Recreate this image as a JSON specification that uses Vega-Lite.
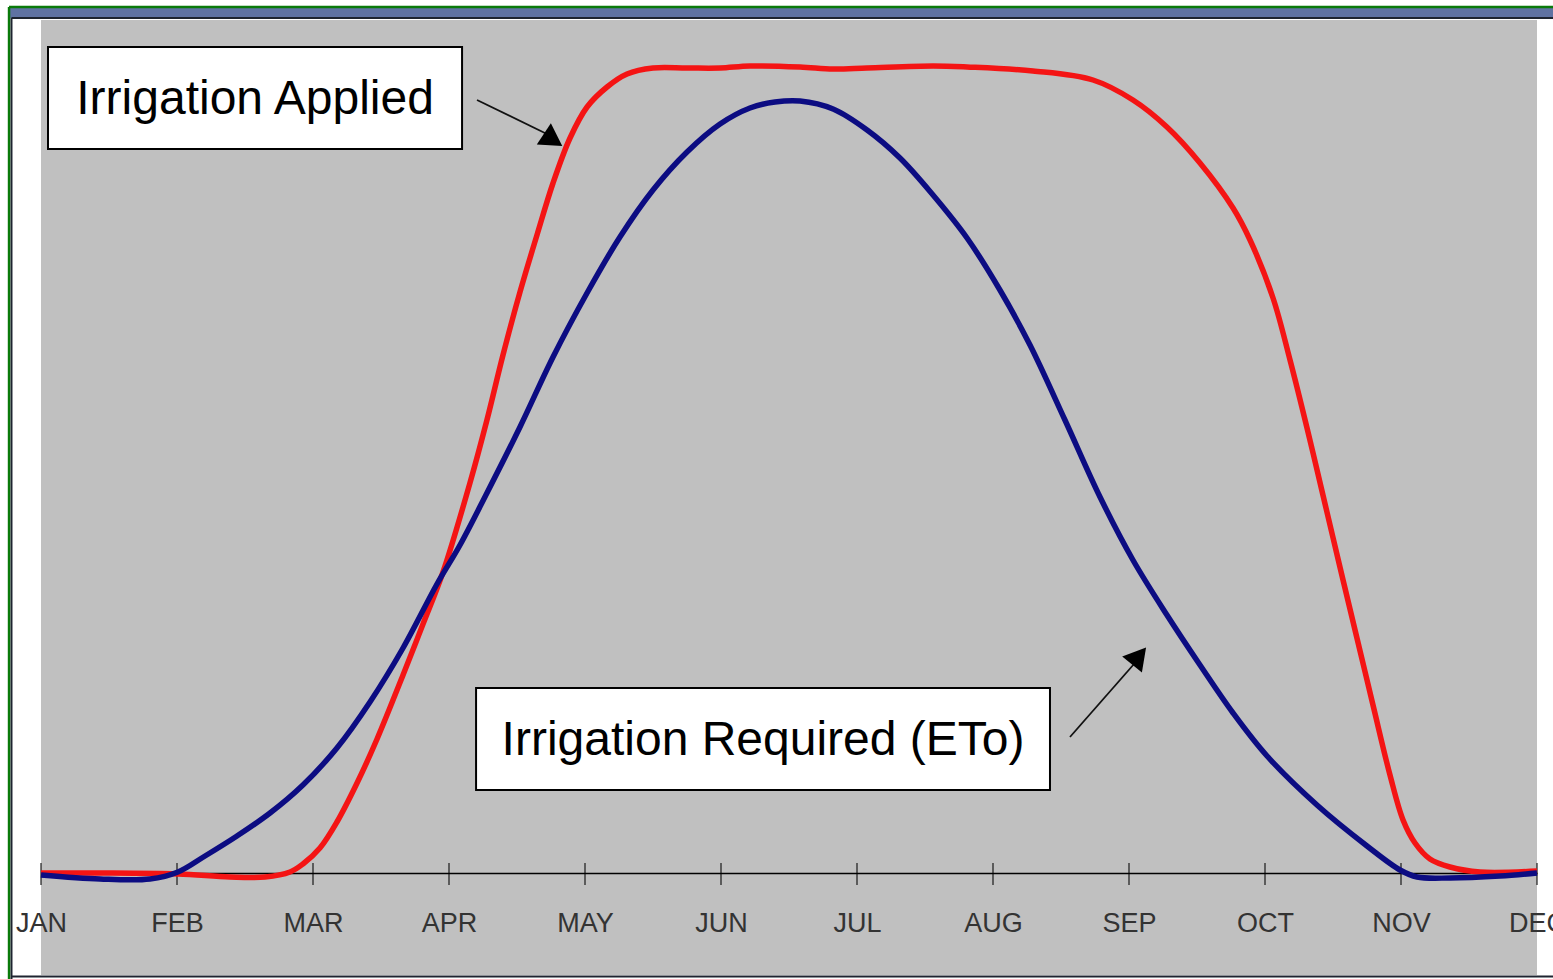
{
  "$schema": "https://vega.github.io/schema/vega-lite/v6.json",
  "width": 1496,
  "height": 955,
  "autosize": {"type": "none"},
  "padding": {"left": 41, "top": 20, "right": 16, "bottom": 4},
  "background": "#ffffff",
  "config": {"view": {"fill": "#c0c0c0", "stroke": null}},
  "datasets": {
    "curves": [
      {"series": "Irrigation Applied", "m": 0, "v": 0},
      {"series": "Irrigation Applied", "m": 0.434, "v": 0},
      {"series": "Irrigation Applied", "m": 1.007, "v": -1},
      {"series": "Irrigation Applied", "m": 1.39, "v": -4},
      {"series": "Irrigation Applied", "m": 1.647, "v": -4},
      {"series": "Irrigation Applied", "m": 1.831, "v": 1},
      {"series": "Irrigation Applied", "m": 1.926, "v": 9},
      {"series": "Irrigation Applied", "m": 2.051, "v": 25},
      {"series": "Irrigation Applied", "m": 2.176, "v": 51},
      {"series": "Irrigation Applied", "m": 2.324, "v": 90},
      {"series": "Irrigation Applied", "m": 2.471, "v": 134},
      {"series": "Irrigation Applied", "m": 2.662, "v": 198},
      {"series": "Irrigation Applied", "m": 2.809, "v": 249},
      {"series": "Irrigation Applied", "m": 2.956, "v": 301},
      {"series": "Irrigation Applied", "m": 3.154, "v": 390},
      {"series": "Irrigation Applied", "m": 3.279, "v": 453},
      {"series": "Irrigation Applied", "m": 3.397, "v": 518},
      {"series": "Irrigation Applied", "m": 3.522, "v": 581},
      {"series": "Irrigation Applied", "m": 3.647, "v": 638},
      {"series": "Irrigation Applied", "m": 3.765, "v": 690},
      {"series": "Irrigation Applied", "m": 3.89, "v": 735},
      {"series": "Irrigation Applied", "m": 4.015, "v": 766},
      {"series": "Irrigation Applied", "m": 4.162, "v": 786},
      {"series": "Irrigation Applied", "m": 4.309, "v": 799},
      {"series": "Irrigation Applied", "m": 4.5, "v": 805},
      {"series": "Irrigation Applied", "m": 4.75, "v": 805},
      {"series": "Irrigation Applied", "m": 4.993, "v": 805},
      {"series": "Irrigation Applied", "m": 5.213, "v": 807},
      {"series": "Irrigation Applied", "m": 5.581, "v": 806},
      {"series": "Irrigation Applied", "m": 5.824, "v": 804},
      {"series": "Irrigation Applied", "m": 6.074, "v": 805},
      {"series": "Irrigation Applied", "m": 6.559, "v": 807},
      {"series": "Irrigation Applied", "m": 6.809, "v": 806},
      {"series": "Irrigation Applied", "m": 7.294, "v": 802},
      {"series": "Irrigation Applied", "m": 7.735, "v": 793},
      {"series": "Irrigation Applied", "m": 8.029, "v": 773},
      {"series": "Irrigation Applied", "m": 8.279, "v": 746},
      {"series": "Irrigation Applied", "m": 8.522, "v": 710},
      {"series": "Irrigation Applied", "m": 8.765, "v": 665},
      {"series": "Irrigation Applied", "m": 8.89, "v": 633},
      {"series": "Irrigation Applied", "m": 9.059, "v": 575},
      {"series": "Irrigation Applied", "m": 9.184, "v": 513},
      {"series": "Irrigation Applied", "m": 9.309, "v": 445},
      {"series": "Irrigation Applied", "m": 9.426, "v": 378},
      {"series": "Irrigation Applied", "m": 9.551, "v": 306},
      {"series": "Irrigation Applied", "m": 9.676, "v": 235},
      {"series": "Irrigation Applied", "m": 9.794, "v": 168},
      {"series": "Irrigation Applied", "m": 9.919, "v": 98},
      {"series": "Irrigation Applied", "m": 10.015, "v": 53},
      {"series": "Irrigation Applied", "m": 10.103, "v": 30},
      {"series": "Irrigation Applied", "m": 10.213, "v": 14},
      {"series": "Irrigation Applied", "m": 10.36, "v": 6},
      {"series": "Irrigation Applied", "m": 10.581, "v": 1},
      {"series": "Irrigation Applied", "m": 11, "v": 2},
      {"series": "Irrigation Required (ETo)", "m": 0, "v": -2},
      {"series": "Irrigation Required (ETo)", "m": 0.434, "v": -6},
      {"series": "Irrigation Required (ETo)", "m": 0.801, "v": -6},
      {"series": "Irrigation Required (ETo)", "m": 1.007, "v": 1},
      {"series": "Irrigation Required (ETo)", "m": 1.206, "v": 17},
      {"series": "Irrigation Required (ETo)", "m": 1.441, "v": 37},
      {"series": "Irrigation Required (ETo)", "m": 1.684, "v": 60},
      {"series": "Irrigation Required (ETo)", "m": 1.926, "v": 88},
      {"series": "Irrigation Required (ETo)", "m": 2.176, "v": 125},
      {"series": "Irrigation Required (ETo)", "m": 2.419, "v": 171},
      {"series": "Irrigation Required (ETo)", "m": 2.662, "v": 225},
      {"series": "Irrigation Required (ETo)", "m": 2.912, "v": 289},
      {"series": "Irrigation Required (ETo)", "m": 3.081, "v": 328},
      {"series": "Irrigation Required (ETo)", "m": 3.279, "v": 380},
      {"series": "Irrigation Required (ETo)", "m": 3.522, "v": 446},
      {"series": "Irrigation Required (ETo)", "m": 3.765, "v": 516},
      {"series": "Irrigation Required (ETo)", "m": 4.015, "v": 580},
      {"series": "Irrigation Required (ETo)", "m": 4.257, "v": 636},
      {"series": "Irrigation Required (ETo)", "m": 4.5, "v": 683},
      {"series": "Irrigation Required (ETo)", "m": 4.75, "v": 721},
      {"series": "Irrigation Required (ETo)", "m": 4.993, "v": 749},
      {"series": "Irrigation Required (ETo)", "m": 5.213, "v": 765},
      {"series": "Irrigation Required (ETo)", "m": 5.397, "v": 771},
      {"series": "Irrigation Required (ETo)", "m": 5.581, "v": 772},
      {"series": "Irrigation Required (ETo)", "m": 5.824, "v": 764},
      {"series": "Irrigation Required (ETo)", "m": 6.074, "v": 743},
      {"series": "Irrigation Required (ETo)", "m": 6.316, "v": 715},
      {"series": "Irrigation Required (ETo)", "m": 6.559, "v": 678},
      {"series": "Irrigation Required (ETo)", "m": 6.809, "v": 635},
      {"series": "Irrigation Required (ETo)", "m": 7.051, "v": 583},
      {"series": "Irrigation Required (ETo)", "m": 7.272, "v": 528},
      {"series": "Irrigation Required (ETo)", "m": 7.529, "v": 453},
      {"series": "Irrigation Required (ETo)", "m": 7.787, "v": 376},
      {"series": "Irrigation Required (ETo)", "m": 8.029, "v": 313},
      {"series": "Irrigation Required (ETo)", "m": 8.279, "v": 258},
      {"series": "Irrigation Required (ETo)", "m": 8.522, "v": 208},
      {"series": "Irrigation Required (ETo)", "m": 8.765, "v": 160},
      {"series": "Irrigation Required (ETo)", "m": 9.015, "v": 117},
      {"series": "Irrigation Required (ETo)", "m": 9.382, "v": 68},
      {"series": "Irrigation Required (ETo)", "m": 9.75, "v": 27},
      {"series": "Irrigation Required (ETo)", "m": 9.993, "v": 3},
      {"series": "Irrigation Required (ETo)", "m": 10.118, "v": -4},
      {"series": "Irrigation Required (ETo)", "m": 10.36, "v": -5},
      {"series": "Irrigation Required (ETo)", "m": 10.728, "v": -3},
      {"series": "Irrigation Required (ETo)", "m": 11, "v": 0}
    ],
    "ticks": [
      {"m": 0, "v": -1}, {"m": 1, "v": -1}, {"m": 2, "v": -1}, {"m": 3, "v": -1},
      {"m": 4, "v": -1}, {"m": 5, "v": -1}, {"m": 6, "v": -1}, {"m": 7, "v": -1},
      {"m": 8, "v": -1}, {"m": 9, "v": -1}, {"m": 10, "v": -1}, {"m": 11, "v": -1}
    ],
    "boxes": [
      {"label": "Irrigation Applied", "x1": 0.0515, "x2": 3.096, "y1": 826, "y2": 724, "cx": 1.574, "cy": 775},
      {"label": "Irrigation Required (ETo)", "x1": 3.199, "x2": 7.419, "y1": 185, "y2": 83, "cx": 5.309, "cy": 134}
    ],
    "arrows": [
      {"id": "applied", "x1": 3.206, "y1": 773, "x2": 3.735, "y2": 738, "hx": 3.765, "hy": 733},
      {"id": "required", "x1": 7.566, "y1": 136, "x2": 8.05, "y2": 211, "hx": 8.074, "hy": 217}
    ],
    "frameBar": [
      {"x1": -0.228, "x2": 11.2, "y1": 865, "y2": 855}
    ],
    "frameGreen": [
      {"x1": -0.235, "x2": 11.2, "y1": 866, "y2": 866},
      {"x1": -0.235, "x2": -0.235, "y1": 866, "y2": -110}
    ],
    "frameDark": [
      {"x1": -0.217, "x2": 11.2, "y1": 855, "y2": 855},
      {"x1": -0.217, "x2": -0.217, "y1": 855, "y2": -110},
      {"x1": -0.217, "x2": 11.2, "y1": -103.5, "y2": -103.5}
    ]
  },
  "layer": [
    {
      "data": {"name": "frameBar"},
      "mark": {"type": "rect", "fill": "#5f72a2", "clip": false},
      "encoding": {
        "x": {"field": "x1", "type": "quantitative", "scale": {"domain": [0, 11], "nice": false, "zero": false}, "axis": {
          "values": [0, 1, 2, 3, 4, 5, 6, 7, 8, 9, 10, 11],
          "labelExpr": "['JAN','FEB','MAR','APR','MAY','JUN','JUL','AUG','SEP','OCT','NOV','DEC'][datum.value]",
          "offset": -102, "tickSize": 0, "grid": false, "title": null,
          "domainColor": "#000000", "domainWidth": 1.5,
          "labelFont": "Liberation Sans",
          "labelFontSize": 27, "labelColor": "#333333", "labelPadding": 37,
          "labelFlush": false, "labelOverlap": false, "labelBound": false
        }},
        "x2": {"field": "x2"},
        "y": {"field": "y1", "type": "quantitative", "scale": {"domain": [-102, 853], "nice": false, "zero": false}, "axis": null},
        "y2": {"field": "y2"}
      }
    },
    {
      "data": {"name": "frameGreen"},
      "mark": {"type": "rule", "color": "#0a7a0a", "strokeWidth": 2.5, "clip": false},
      "encoding": {
        "x": {"field": "x1", "type": "quantitative"},
        "x2": {"field": "x2"},
        "y": {"field": "y1", "type": "quantitative"},
        "y2": {"field": "y2"}
      }
    },
    {
      "data": {"name": "frameDark"},
      "mark": {"type": "rule", "color": "#1e2430", "strokeWidth": 2, "clip": false},
      "encoding": {
        "x": {"field": "x1", "type": "quantitative"},
        "x2": {"field": "x2"},
        "y": {"field": "y1", "type": "quantitative"},
        "y2": {"field": "y2"}
      }
    },
    {
      "data": {"name": "ticks"},
      "mark": {"type": "tick", "orient": "vertical", "size": 22, "thickness": 1.5, "color": "#000000"},
      "encoding": {
        "x": {"field": "m", "type": "quantitative"},
        "y": {"field": "v", "type": "quantitative"}
      }
    },
    {
      "data": {"name": "curves"},
      "mark": {"type": "line", "interpolate": "catmull-rom", "strokeWidth": 5.5},
      "encoding": {
        "x": {"field": "m", "type": "quantitative"},
        "y": {"field": "v", "type": "quantitative"},
        "color": {"field": "series", "type": "nominal", "scale": {"domain": ["Irrigation Required (ETo)", "Irrigation Applied"], "range": ["#0c0c82", "#f41414"]}, "legend": null},
        "order": {"field": "m", "type": "quantitative"}
      }
    },
    {
      "data": {"name": "boxes"},
      "mark": {"type": "rect", "fill": "#ffffff", "stroke": "#000000", "strokeWidth": 2},
      "encoding": {
        "x": {"field": "x1", "type": "quantitative"},
        "x2": {"field": "x2"},
        "y": {"field": "y1", "type": "quantitative"},
        "y2": {"field": "y2"}
      }
    },
    {
      "data": {"name": "boxes"},
      "mark": {"type": "text", "font": "Liberation Sans", "fontSize": 48, "color": "#000000", "align": "center", "baseline": "middle", "dy": 2},
      "encoding": {
        "x": {"field": "cx", "type": "quantitative"},
        "y": {"field": "cy", "type": "quantitative"},
        "text": {"field": "label"}
      }
    },
    {
      "data": {"name": "arrows"},
      "mark": {"type": "rule", "color": "#111111", "strokeWidth": 1.8},
      "encoding": {
        "x": {"field": "x1", "type": "quantitative"},
        "x2": {"field": "x2"},
        "y": {"field": "y1", "type": "quantitative"},
        "y2": {"field": "y2"}
      }
    },
    {
      "data": {"name": "arrows"},
      "transform": [{"filter": "datum.id === 'applied'"}],
      "mark": {"type": "point", "shape": "triangle-up", "filled": true, "color": "#000000", "opacity": 1, "size": 650, "angle": 123.5},
      "encoding": {
        "x": {"field": "hx", "type": "quantitative"},
        "y": {"field": "hy", "type": "quantitative"}
      }
    },
    {
      "data": {"name": "arrows"},
      "transform": [{"filter": "datum.id === 'required'"}],
      "mark": {"type": "point", "shape": "triangle-up", "filled": true, "color": "#000000", "opacity": 1, "size": 650, "angle": 39.4},
      "encoding": {
        "x": {"field": "hx", "type": "quantitative"},
        "y": {"field": "hy", "type": "quantitative"}
      }
    }
  ]
}
